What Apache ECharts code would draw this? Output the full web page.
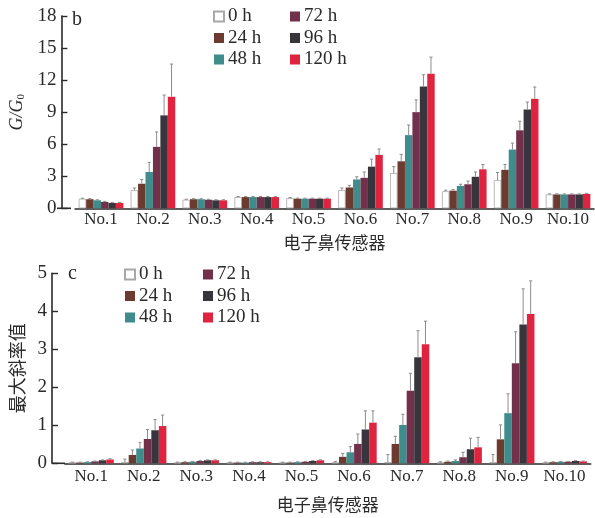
<!DOCTYPE html>
<html>
<head>
<meta charset="utf-8">
<script src="https://cdn.jsdelivr.net/npm/echarts@6/dist/echarts.min.js"></script>
<style>
  html, body { margin: 0; padding: 0; background: #fff; }
  #chart { width: 595px; height: 518px; }
</style>
</head>
<body>
<div id="chart"></div>
<script>
// Sensor channels of the electronic nose
const sensors = ['No.1', 'No.2', 'No.3', 'No.4', 'No.5', 'No.6', 'No.7', 'No.8', 'No.9', 'No.10'];
// Storage times
const hours = ['0 h', '24 h', '48 h', '72 h', '96 h', '120 h'];

// Panel b: response ratio G/G0 (mean) per storage time
const ratio0h   = [0.90, 1.70, 0.80, 1.05, 0.95, 1.70, 3.30, 1.60, 2.65, 1.30];
const ratio24h  = [0.85, 2.30, 0.85, 1.05, 0.90, 1.95, 4.40, 1.65, 3.60, 1.30];
const ratio48h  = [0.75, 3.40, 0.85, 1.05, 0.90, 2.70, 6.85, 2.10, 5.50, 1.30];
const ratio72h  = [0.60, 5.75, 0.80, 1.05, 0.90, 2.85, 9.00, 2.25, 7.30, 1.30];
const ratio96h  = [0.50, 8.70, 0.75, 1.05, 0.90, 3.90, 11.40, 2.95, 9.25, 1.30];
const ratio120h = [0.50, 10.45, 0.75, 1.05, 0.90, 5.00, 12.60, 3.65, 10.25, 1.35];
// Panel b: standard deviation
const ratioSd0h   = [0.05, 0.20, 0.05, 0.05, 0.05, 0.20, 0.60, 0.10, 0.70, 0.05];
const ratioSd24h  = [0.05, 0.40, 0.05, 0.05, 0.05, 0.20, 0.65, 0.10, 0.50, 0.05];
const ratioSd48h  = [0.05, 0.90, 0.05, 0.05, 0.05, 0.25, 0.95, 0.15, 0.60, 0.05];
const ratioSd72h  = [0.05, 1.40, 0.05, 0.05, 0.05, 0.55, 1.15, 0.30, 0.85, 0.05];
const ratioSd96h  = [0.05, 1.90, 0.05, 0.05, 0.05, 0.70, 1.10, 0.45, 0.70, 0.05];
const ratioSd120h = [0.05, 3.05, 0.05, 0.05, 0.05, 0.55, 1.55, 0.45, 1.10, 0.05];

// Panel c: maximum slope (mean) per storage time
const slope0h   = [0.02, 0.03, 0.02, 0.02, 0.02, 0.02, 0.03, 0.02, 0.03, 0.02];
const slope24h  = [0.02, 0.22, 0.03, 0.02, 0.02, 0.17, 0.51, 0.04, 0.63, 0.03];
const slope48h  = [0.03, 0.39, 0.04, 0.02, 0.03, 0.29, 1.01, 0.06, 1.32, 0.04];
const slope72h  = [0.05, 0.64, 0.06, 0.03, 0.04, 0.51, 1.91, 0.16, 2.63, 0.04];
const slope96h  = [0.08, 0.87, 0.08, 0.03, 0.06, 0.89, 2.79, 0.37, 3.65, 0.06];
const slope120h = [0.10, 0.98, 0.08, 0.03, 0.08, 1.07, 3.13, 0.42, 3.93, 0.05];
// Panel c: standard deviation
const slopeSd0h   = [0.01, 0.08, 0.01, 0.01, 0.01, 0.03, 0.20, 0.02, 0.20, 0.01];
const slopeSd24h  = [0.01, 0.13, 0.01, 0.01, 0.01, 0.09, 0.20, 0.02, 0.38, 0.01];
const slopeSd48h  = [0.01, 0.16, 0.01, 0.01, 0.01, 0.15, 0.28, 0.03, 0.51, 0.01];
const slopeSd72h  = [0.01, 0.25, 0.01, 0.01, 0.01, 0.26, 0.46, 0.13, 0.83, 0.01];
const slopeSd96h  = [0.01, 0.28, 0.01, 0.01, 0.01, 0.49, 0.70, 0.29, 0.94, 0.01];
const slopeSd120h = [0.02, 0.29, 0.01, 0.01, 0.01, 0.31, 0.61, 0.26, 0.87, 0.01];

const ratioTicks = [0, 3, 6, 9, 12, 15, 18];
const slopeTicks = [0, 1, 2, 3, 4, 5];

const ratioMeans = [ratio0h, ratio24h, ratio48h, ratio72h, ratio96h, ratio120h];
const ratioSds = [ratioSd0h, ratioSd24h, ratioSd48h, ratioSd72h, ratioSd96h, ratioSd120h];
const slopeMeans = [slope0h, slope24h, slope48h, slope72h, slope96h, slope120h];
const slopeSds = [slopeSd0h, slopeSd24h, slopeSd48h, slopeSd72h, slopeSd96h, slopeSd120h];

const fills = ['#ffffff', '#6b3b30', '#3e8c8c', '#72304a', '#38363c', '#e0233f'];
const SERIF = '"Liberation Serif", "Times New Roman", serif';
const CJK = '"Noto Sans CJK SC", sans-serif';
const INK = '#2a2a2a';
const CAT_GAP = 0.14;

function barSeries(idx, means) {
  return means.map((vals, s) => ({
    name: hours[s],
    type: 'bar',
    xAxisIndex: idx,
    yAxisIndex: idx,
    data: vals,
    barGap: '0%',
    barCategoryGap: (CAT_GAP * 100) + '%',
    itemStyle: s === 0
      ? { color: fills[s], borderColor: '#a8a8a8', borderWidth: 0.8 }
      : { color: fills[s] },
    emphasis: { disabled: true }
  }));
}

function errorSeries(idx, means, sds) {
  return means.map((vals, s) => ({
    type: 'custom',
    xAxisIndex: idx,
    yAxisIndex: idx,
    silent: true,
    z: 3,
    encode: { x: 0, y: [1, 2] },
    data: vals.map((v, i) => [i, v, v + sds[s][i]]),
    renderItem(params, api) {
      const band = api.size([1, 0])[0];
      const bw = band * (1 - CAT_GAP) / 6;
      const cx = api.coord([api.value(0), 0])[0] - band * (1 - CAT_GAP) / 2 + bw * (s + 0.5);
      const y1 = api.coord([api.value(0), api.value(1)])[1];
      const y2 = api.coord([api.value(0), api.value(2)])[1];
      const st = { stroke: '#8c8c8c', lineWidth: 1 };
      return {
        type: 'group',
        children: [
          { type: 'line', shape: { x1: cx, y1: y1, x2: cx, y2: y2 }, style: st },
          { type: 'line', shape: { x1: cx - 1.6, y1: y2, x2: cx + 1.6, y2: y2 }, style: st }
        ]
      };
    }
  }));
}

function catAxis(idx, gap) {
  return {
    type: 'category',
    gridIndex: idx,
    data: sensors,
    axisLine: { lineStyle: { color: INK, width: 1.6 } },
    axisTick: { inside: true, length: 9, interval: (i) => i !== 0, lineStyle: { color: INK, width: 1.4 } },
    axisLabel: { interval: 0, color: INK, fontFamily: SERIF, fontSize: 17, margin: idx === 0 ? 3 : 5 },
    name: '电子鼻传感器',
    nameLocation: 'middle',
    nameGap: gap,
    nameTextStyle: { color: INK, fontFamily: CJK, fontSize: 17 }
  };
}

function valAxis(idx, ticks, offset, name, nameGap, nameStyle) {
  return {
    type: 'value',
    gridIndex: idx,
    min: ticks[0],
    max: ticks[ticks.length - 1],
    interval: ticks[1] - ticks[0],
    offset: offset,
    splitLine: { show: false },
    axisLine: { show: true, lineStyle: { color: INK, width: 1.6 } },
    axisTick: { show: true, inside: true, length: 6, lineStyle: { color: INK, width: 1.4 } },
    axisLabel: { color: INK, fontFamily: SERIF, fontSize: 19, margin: 5 },
    name: name,
    nameLocation: 'middle',
    nameRotate: 90,
    nameGap: nameGap,
    nameTextStyle: nameStyle
  };
}

function legendCol(left, top, names) {
  return {
    data: names,
    orient: 'vertical',
    left: left,
    top: top,
    padding: 0,
    itemWidth: 10,
    itemHeight: 10,
    itemGap: 2.5,
    icon: 'rect',
    selectedMode: false,
    textStyle: { color: INK, fontFamily: SERIF, fontSize: 19, lineHeight: 19, padding: [0, 0, 0, -1] }
  };
}

const chart = echarts.init(document.getElementById('chart'), null, { renderer: 'canvas' });

chart.setOption({
  animation: false,
  backgroundColor: '#ffffff',
  grid: [
    { left: 70.7, right: 1, top: 16, bottom: 309.7 },
    { left: 64.9, right: 4.3, top: 273.3, bottom: 54.7 }
  ],
  legend: [
    legendCol(213, 7, hours.slice(0, 3)),
    legendCol(290, 7, hours.slice(3)),
    legendCol(124, 265, hours.slice(0, 3)),
    legendCol(203, 265, hours.slice(3))
  ],
  xAxis: [catAxis(0, 26), catAxis(1, 33)],
  yAxis: [
    valAxis(0, ratioTicks, 13.7, '{i|G/G}{s|0}', 33, {
      color: INK,
      fontFamily: SERIF,
      fontSize: 18,
      rich: {
        i: { fontFamily: SERIF, fontStyle: 'italic', fontSize: 18, color: INK },
        s: { fontFamily: SERIF, fontSize: 11, color: INK, padding: [8, 0, 0, 0] }
      }
    }),
    valAxis(1, slopeTicks, 12.9, '最大斜率值', 25, { color: INK, fontFamily: CJK, fontSize: 18 })
  ],
  graphic: [
    // x axis lines run back to the y axes
    { type: 'line', shape: { x1: 57, y1: 208.3, x2: 71, y2: 208.3 }, style: { stroke: INK, lineWidth: 1.6 } },
    { type: 'line', shape: { x1: 52, y1: 463.3, x2: 65, y2: 463.3 }, style: { stroke: INK, lineWidth: 1.6 } },
    { type: 'text', x: 72, y: 20, style: { text: 'b', font: '20px ' + SERIF, fill: INK, verticalAlign: 'middle' } },
    { type: 'text', x: 68, y: 273.5, style: { text: 'c', font: '20px ' + SERIF, fill: INK, verticalAlign: 'middle' } }
  ],
  series: [
    ...barSeries(0, ratioMeans),
    ...barSeries(1, slopeMeans),
    ...errorSeries(0, ratioMeans, ratioSds),
    ...errorSeries(1, slopeMeans, slopeSds)
  ]
});
</script>
</body>
</html>
